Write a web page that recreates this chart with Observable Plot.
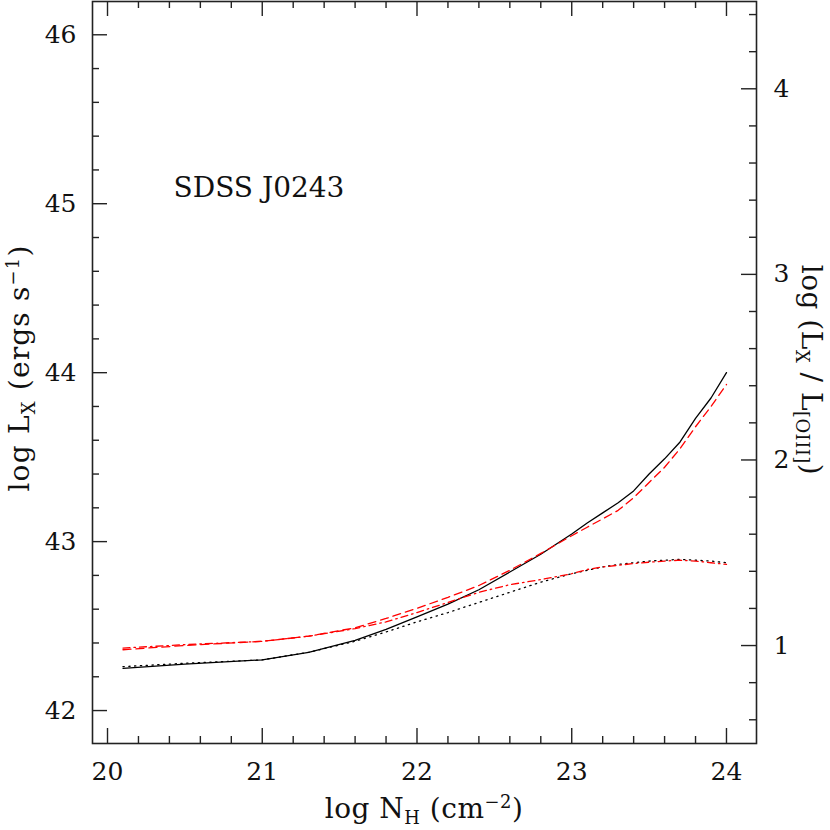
<!DOCTYPE html>
<html>
<head>
<meta charset="utf-8">
<script src="https://cdn.jsdelivr.net/npm/d3@7"></script>
<script src="https://cdn.jsdelivr.net/npm/@observablehq/plot@0.6"></script>
<style>
  html, body { margin: 0; padding: 0; background: #fff; }
  #chart { width: 830px; height: 830px; }
</style>
</head>
<body>
<div id="chart"></div>
<script>
// ---- data ----
const nH = [20.1, 20.5, 21.0, 21.3, 21.6, 21.8, 22.0, 22.2, 22.4, 22.6, 22.8, 23.0, 23.1, 23.2, 23.3, 23.4, 23.5, 23.6, 23.7, 23.8, 23.9, 24.0];
const solidLx   = [42.25, 42.275, 42.30, 42.345, 42.415, 42.48, 42.555, 42.63, 42.715, 42.82, 42.925, 43.045, 43.11, 43.17, 43.23, 43.30, 43.40, 43.49, 43.59, 43.73, 43.85, 44.00];
const dottedLx  = [42.26, 42.28, 42.30, 42.345, 42.41, 42.465, 42.525, 42.58, 42.64, 42.70, 42.76, 42.81, 42.83, 42.85, 42.865, 42.875, 42.885, 42.89, 42.895, 42.89, 42.885, 42.875];
const dashedLx  = [42.36, 42.385, 42.41, 42.44, 42.49, 42.545, 42.605, 42.67, 42.74, 42.83, 42.93, 43.035, 43.085, 43.135, 43.185, 43.26, 43.35, 43.44, 43.55, 43.68, 43.80, 43.93];
const dashDotLx = [42.37, 42.39, 42.41, 42.44, 42.485, 42.525, 42.58, 42.64, 42.70, 42.745, 42.775, 42.81, 42.835, 42.85, 42.86, 42.87, 42.878, 42.885, 42.89, 42.885, 42.875, 42.865];

const xMajor = [20, 21, 22, 23, 24];
const xMinor = [20.2, 20.4, 20.6, 20.8, 21.2, 21.4, 21.6, 21.8, 22.2, 22.4, 22.6, 22.8, 23.2, 23.4, 23.6, 23.8];
const yMajor = [42, 43, 44, 45, 46];
const yMinor = [42.2, 42.4, 42.6, 42.8, 43.2, 43.4, 43.6, 43.8, 44.2, 44.4, 44.6, 44.8, 45.2, 45.4, 45.6, 45.8];
const rMajor = [1, 2, 3, 4];
const rMinor = [0.6, 0.8, 1.2, 1.4, 1.6, 1.8, 2.2, 2.4, 2.6, 2.8, 3.2, 3.4, 3.6, 3.8, 4.2, 4.4];
const label = "SDSS J0243";

// right axis (log Lx/L[OIII]) expressed in left-axis units
const rA = 41.2863, rB = 1.0985;
const toLeft = r => rA + rB * r;
const fromLeft = y => (y - rA) / rB;

const series = [
  {name: "solid", values: solidLx, stroke: "#000", dash: null},
  {name: "dotted", values: dottedLx, stroke: "#000", dash: "1.3,4.5"},
  {name: "dashed", values: dashedLx, stroke: "#ff0000", dash: "8,5"},
  {name: "dashdot", values: dashDotLx, stroke: "#ff0000", dash: "7,4,1.5,4"}
];
const rows = series.flatMap(s => nH.map((x, i) => ({series: s.name, x, y: s.values[i]})));

const W = 830, H = 830, mL = 92, mR = 74, mT = 1, mB = 87;
const fw = W - mL - mR, fh = H - mT - mB;
const TMAJ = 15, TMIN = 7;
const axisColor = "#222";

const plot = Plot.plot({
  width: W, height: H,
  marginLeft: mL, marginRight: mR, marginTop: mT, marginBottom: mB,
  x: {domain: [19.903, 24.194]},
  y: {domain: [41.805, 46.197]},
  style: {fontFamily: "DejaVu Serif", fontSize: "25px", color: "#111", background: "white"},
  marks: [
    Plot.axisX(xMajor, {tickSize: 0, tickPadding: 19, label: null, tickFormat: d => String(d)}),
    Plot.axisY(yMajor, {tickSize: 0, tickPadding: 16, label: null, tickFormat: d => String(d)}),
    Plot.axisY(rMajor.map(toLeft), {anchor: "right", tickSize: 0, tickPadding: 17, label: null, tickFormat: d => String(Math.round(fromLeft(d)))}),
    // inward ticks: bottom & top
    Plot.tickX(xMajor, {x: d => d, insetTop: fh - TMAJ, stroke: axisColor, strokeWidth: 1.4}),
    Plot.tickX(xMinor, {x: d => d, insetTop: fh - TMIN, stroke: axisColor, strokeWidth: 1.4}),
    Plot.tickX(xMajor, {x: d => d, insetBottom: fh - TMAJ, stroke: axisColor, strokeWidth: 1.4}),
    Plot.tickX(xMinor, {x: d => d, insetBottom: fh - TMIN, stroke: axisColor, strokeWidth: 1.4}),
    // left ticks
    Plot.tickY(yMajor, {y: d => d, insetRight: fw - TMAJ, stroke: axisColor, strokeWidth: 1.4}),
    Plot.tickY(yMinor, {y: d => d, insetRight: fw - TMIN, stroke: axisColor, strokeWidth: 1.4}),
    // right ticks
    Plot.tickY(rMajor.map(toLeft), {y: d => d, insetLeft: fw - TMAJ, stroke: axisColor, strokeWidth: 1.4}),
    Plot.tickY(rMinor.map(toLeft), {y: d => d, insetLeft: fw - TMIN, stroke: axisColor, strokeWidth: 1.4}),
    Plot.frame({stroke: axisColor, strokeWidth: 1.6}),
    ...series.map(s => Plot.line(rows.filter(r => r.series === s.name), {
      x: "x", y: "y", stroke: s.stroke, strokeWidth: 1.3, strokeDasharray: s.dash, curve: "linear"
    })),
    Plot.text([label], {text: d => d, frameAnchor: "top-left", dx: 81, dy: 195, textAnchor: "start", lineAnchor: "bottom", fontSize: 28, fill: "#111"})
  ]
});

document.getElementById("chart").appendChild(plot);

// axis titles with sub/superscripts
const svg = d3.select(plot);
function richText({x, y, rotate = 0, size = 28, spacing = 0.5, parts}) {
  const t = svg.append("text")
    .attr("transform", `translate(${x},${y}) rotate(${rotate})`)
    .attr("text-anchor", "middle")
    .attr("font-family", "DejaVu Serif")
    .attr("font-size", size)
    .attr("letter-spacing", spacing)
    .attr("fill", "#111");
  let shift = 0;
  for (const [s, k] of parts) {
    const target = k === "sub" ? size * 0.22 : k === "sup" ? -size * 0.34 : 0;
    t.append("tspan")
      .attr("dy", target - shift)
      .attr("font-size", k === "n" ? size : size * 0.64)
      .text(s);
    shift = target;
  }
}
richText({x: 424, y: 818, parts: [["log N", "n"], ["H", "sub"], [" (cm", "n"], ["\u22122", "sup"], [")", "n"]]});
richText({x: 29, y: 368, rotate: -90, spacing: 1.2, parts: [["log L", "n"], ["X", "sub"], [" (ergs s", "n"], ["\u22121", "sup"], [")", "n"]]});
richText({x: 802, y: 370, rotate: 90, parts: [["log (L", "n"], ["X", "sub"], [" / L", "n"], ["[OIII]", "sub"], [")", "n"]]});
</script>
</body>
</html>
